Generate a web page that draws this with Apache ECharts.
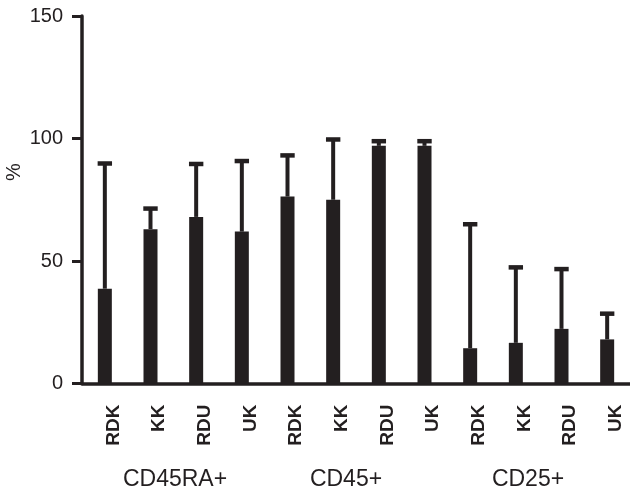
<!DOCTYPE html>
<html>
<head>
<meta charset="utf-8">
<script src="https://cdn.jsdelivr.net/npm/echarts@6/dist/echarts.min.js"></script>
<style>
html,body{margin:0;padding:0;background:#fff;}
#chart{width:630px;height:496px;}
</style>
</head>
<body>
<div id="chart"></div>
<script>
var categories = ['RDK','KK','RDU','UK','RDK','KK','RDU','UK','RDK','KK','RDU','UK'];
var groupLabels = ['CD45RA+','CD45+','CD25+'];
var meanValues = [38.7, 63, 68, 62, 76.3, 75, 97, 97, 14.4, 16.6, 22.3, 18];
var upperValues = [89.8, 71.4, 89.6, 90.8, 93.1, 99.6, 98.9, 98.9, 65, 47.4, 46.7, 28.5];
var yTicks = [0, 50, 100, 150];

var INK = '#231f20';
var chart = echarts.init(document.getElementById('chart'), null, {renderer:'canvas'});

var errData = meanValues.map(function(v, i){ return [i, v, upperValues[i]]; });

var groupX = [175, 346, 528];

chart.setOption({
  animation: false,
  backgroundColor: '#fff',
  grid: {left: 82, right: 0, top: 16, bottom: 112.5},
  xAxis: {
    type: 'category',
    data: categories,
    axisLine: {lineStyle: {color: INK, width: 3.5}},
    axisTick: {alignWithLabel: true, length: 11, lineStyle: {color: INK, width: 3}},
    axisLabel: {
      rotate: 90, margin: 21, interval: 0,
      color: INK, fontFamily: 'Liberation Sans, Arial, sans-serif',
      fontWeight: 'bold', fontSize: 19,
      verticalAlign: 'top', lineHeight: 17
    },
    splitLine: {show: false}
  },
  yAxis: {
    type: 'value',
    min: yTicks[0], max: yTicks[yTicks.length-1], interval: 50,
    axisLine: {show: true, lineStyle: {color: INK, width: 3.5}},
    axisTick: {show: true, length: 10, lineStyle: {color: INK, width: 3}},
    axisLabel: {
      margin: 19, color: INK,
      fontFamily: "'Liberation Sans Narrow', 'Liberation Sans', sans-serif",
      fontSize: 20
    },
    splitLine: {show: false}
  },
  graphic: [
    {type:'text', x: 14, y: 172, rotation: Math.PI/2,
     style:{text:'%', fill: INK, font: '20px "Liberation Sans", Arial, sans-serif', textAlign:'center', textVerticalAlign:'middle'}},
    {type:'text', x: groupX[0], y: 480, style:{text: groupLabels[0], fill: INK, font: '23px "Liberation Sans", Arial, sans-serif', textAlign:'center', textVerticalAlign:'middle'}},
    {type:'text', x: groupX[1], y: 480, style:{text: groupLabels[1], fill: INK, font: '23px "Liberation Sans", Arial, sans-serif', textAlign:'center', textVerticalAlign:'middle'}},
    {type:'text', x: groupX[2], y: 480, style:{text: groupLabels[2], fill: INK, font: '23px "Liberation Sans", Arial, sans-serif', textAlign:'center', textVerticalAlign:'middle'}}
  ],
  series: [
    {
      type: 'bar',
      data: meanValues,
      barWidth: 14,
      itemStyle: {color: INK},
      z: 2
    },
    {
      type: 'custom',
      data: errData,
      z: 3,
      renderItem: function(params, api){
        var x = api.value(0);
        var base = api.coord([x, api.value(1)]);
        var top = api.coord([x, api.value(2)]);
        var half = 7.2;
        return {
          type: 'group',
          children: [
            {type:'line', shape:{x1: base[0], y1: base[1], x2: top[0], y2: top[1]},
             style:{stroke: INK, lineWidth: 4}},
            {type:'line', shape:{x1: top[0]-half, y1: top[1], x2: top[0]+half, y2: top[1]},
             style:{stroke: INK, lineWidth: 4.5}}
          ]
        };
      }
    }
  ]
});
</script>
</body>
</html>
